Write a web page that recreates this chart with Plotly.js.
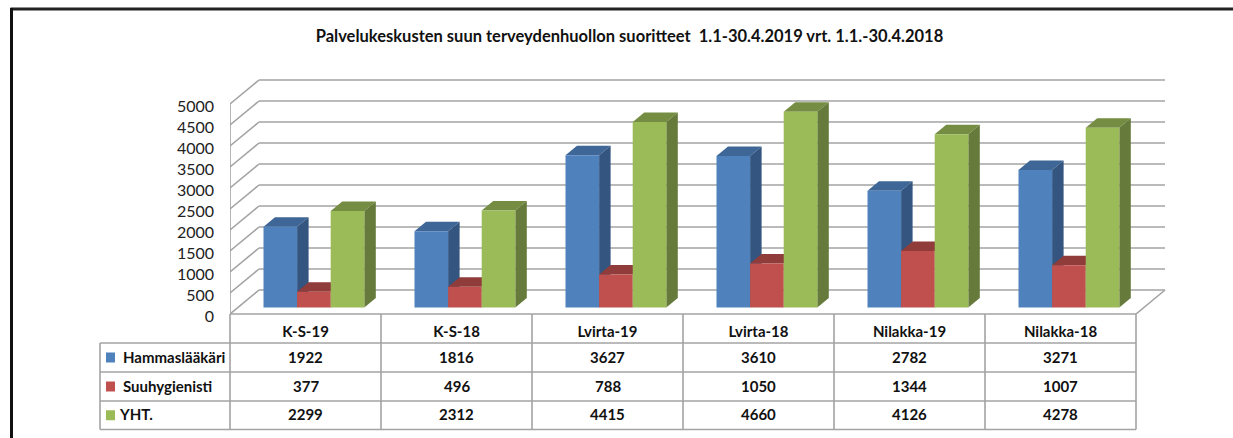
<!DOCTYPE html>
<html><head><meta charset="utf-8">
<script src="https://cdn.plot.ly/plotly-3.0.1.min.js"></script>
<style>html,body{margin:0;padding:0;background:#fff}#c{width:1233px;height:438px}</style>
</head><body><div id="c"></div>
<script>
const categories = ['K-S-19','K-S-18','Lvirta-19','Lvirta-18','Nilakka-19','Nilakka-18'];
const hammaslaakari = [1922,1816,3627,3610,2782,3271];
const suuhygienisti = [377,496,788,1050,1344,1007];
const yht = [2299,2312,4415,4660,4126,4278];
const seriesNames = ['Hammaslääkäri','Suuhygienisti','YHT.'];
const yTicks = [0,500,1000,1500,2000,2500,3000,3500,4000,4500,5000];
const titleText = 'Palvelukeskusten suun terveydenhuollon suoritteet  1.1-30.4.2019 vrt. 1.1.-30.4.2018';

const W=1233,H=438;
const frontL=230,catW=151,frontB=314,frontT=104;
const plotR=1172,plotT=74;
const ux=1/catW, uy=5000/(frontB-frontT);            // data units per pixel
const wallDx=29*ux, wallDy=24*uy;
const barW=33.6*ux, groupOff=33.5*ux, floor=6.5*uy, depthX=11.5*ux, depthY=9.5*uy;
const series=[
 {vals:hammaslaakari,front:'#4F81BD',top:'#3E6696',side:'#33557F'},
 {vals:suuhygienisti,front:'#C0504D',top:'#8F3C3A',side:'#823634'},
 {vals:yht,front:'#9BBB59',top:'#748D42',side:'#667B3B'}];
const FONT='Lato, Carlito, sans-serif', GRID='#A3A3A3', TXT='#111';
const px=x=>x/W, py=y=>1-y/H;

const shapes=[], annotations=[];
const line=(x0,y0,x1,y1,c,w,xref,yref)=>shapes.push({type:'line',layer:'below',xref:xref||'x',yref:yref||'y',x0,y0,x1,y1,line:{color:c||GRID,width:w||1.6}});
// walls
yTicks.forEach(v=>{
  line(wallDx,v+wallDy,categories.length+wallDx,v+wallDy);
  line(0,v,wallDx,v+wallDy);
});
line(0,0,0,5000);
line(categories.length,0,categories.length+wallDx,wallDy);
// 3D faces of bars
const poly=(pts,c)=>shapes.push({type:'path',layer:'below',xref:'x',yref:'y',fillcolor:c,line:{width:0},
  path:'M'+pts.map(p=>p[0]+','+p[1]).join(' L')+' Z'});
categories.forEach((_,i)=>{
  series.forEach((s,k)=>{
    const l=i+groupOff+k*barW,r=l+barW,t=floor+s.vals[i],b=floor;
    poly([[l,t],[r,t],[r+depthX,t+depthY],[l+depthX,t+depthY]],s.top);
    poly([[r,b],[r,t],[r+depthX,t+depthY],[r+depthX,b+depthY]],s.side);
  });
});
// data table
const tblRows=[314,343,372,401,429.5];
const colX=[0,1,2,3,4,5,6];
colX.forEach(c=>shapes.push({type:'line',xref:'paper',yref:'paper',x0:px(frontL+c*catW),x1:px(frontL+c*catW),y0:py(314),y1:py(429.5),line:{color:GRID,width:1.6}}));
tblRows.forEach((y,j)=>shapes.push({type:'line',xref:'paper',yref:'paper',x0:px(j===0?frontL:100),x1:px(frontL+6*catW),y0:py(y),y1:py(y),line:{color:GRID,width:1.6}}));
shapes.push({type:'line',xref:'paper',yref:'paper',x0:px(100),x1:px(100),y0:py(343),y1:py(429.5),line:{color:GRID,width:1.6}});
const cell=(x,y,text,anchor,size)=>annotations.push({xref:'paper',yref:'paper',x:px(x),y:py(y),text:'<b>'+text+'</b>',showarrow:false,xanchor:anchor||'center',yanchor:'middle',font:{family:FONT,size:size||15,color:TXT}});
series.forEach((s,k)=>{
  const y=(tblRows[k+1]+tblRows[k+2])/2;
  shapes.push({type:'rect',xref:'paper',yref:'paper',x0:px(106),x1:px(115),y0:py(y-5),y1:py(y+5),fillcolor:s.front,line:{width:0}});
  cell(k===2?117:121,y-1,seriesNames[k],'left',15);
  s.vals.forEach((v,i)=>cell(frontL+(i+0.5)*catW,y-1,String(v)));
});
// outer frame
shapes.push({type:'line',xref:'paper',yref:'paper',x0:0.0085,x1:1,y0:py(9),y1:py(9),line:{color:'#222',width:3}});
shapes.push({type:'line',xref:'paper',yref:'paper',x0:px(11.5),x1:px(11.5),y0:py(8),y1:0,line:{color:'#111',width:3}});

const traces=series.map((s,k)=>({type:'bar',name:seriesNames[k],
  x:categories.map((_,i)=>i+groupOff+(k+0.5)*barW),
  y:s.vals,base:categories.map(()=>floor),width:barW,
  marker:{color:s.front,line:{width:0}},showlegend:false}));

Plotly.newPlot('c',traces,{
  width:W,height:H,margin:{l:0,r:0,t:0,b:0},paper_bgcolor:'#fff',plot_bgcolor:'rgba(0,0,0,0)',
  barmode:'overlay',showlegend:false,
  title:{text:'<b>'+titleText+'</b>',x:629.5/W,xanchor:'center',y:py(36),yanchor:'middle',xref:'paper',yref:'paper',font:{family:FONT,size:16.5,color:TXT}},
  xaxis:{domain:[px(frontL),px(plotR)],range:[0,(plotR-frontL)*ux],tickmode:'array',
    tickvals:categories.map((_,i)=>i+0.5),ticktext:categories.map(c=>'<b>'+c+'</b>'),
    showgrid:false,zeroline:false,showline:false,ticks:'',ticklabelstandoff:7,tickfont:{family:FONT,size:15,color:TXT}},
  yaxis:{domain:[py(frontB),py(plotT)],range:[0,(frontB-plotT)*uy],tickmode:'array',tickvals:yTicks,
    showgrid:false,zeroline:false,showline:false,ticks:'',ticklabelstandoff:15,ticklabelshift:2,tickfont:{family:FONT,size:16,color:'#222'}},
  shapes,annotations
},{displayModeBar:false,staticPlot:true});
</script></body></html>
